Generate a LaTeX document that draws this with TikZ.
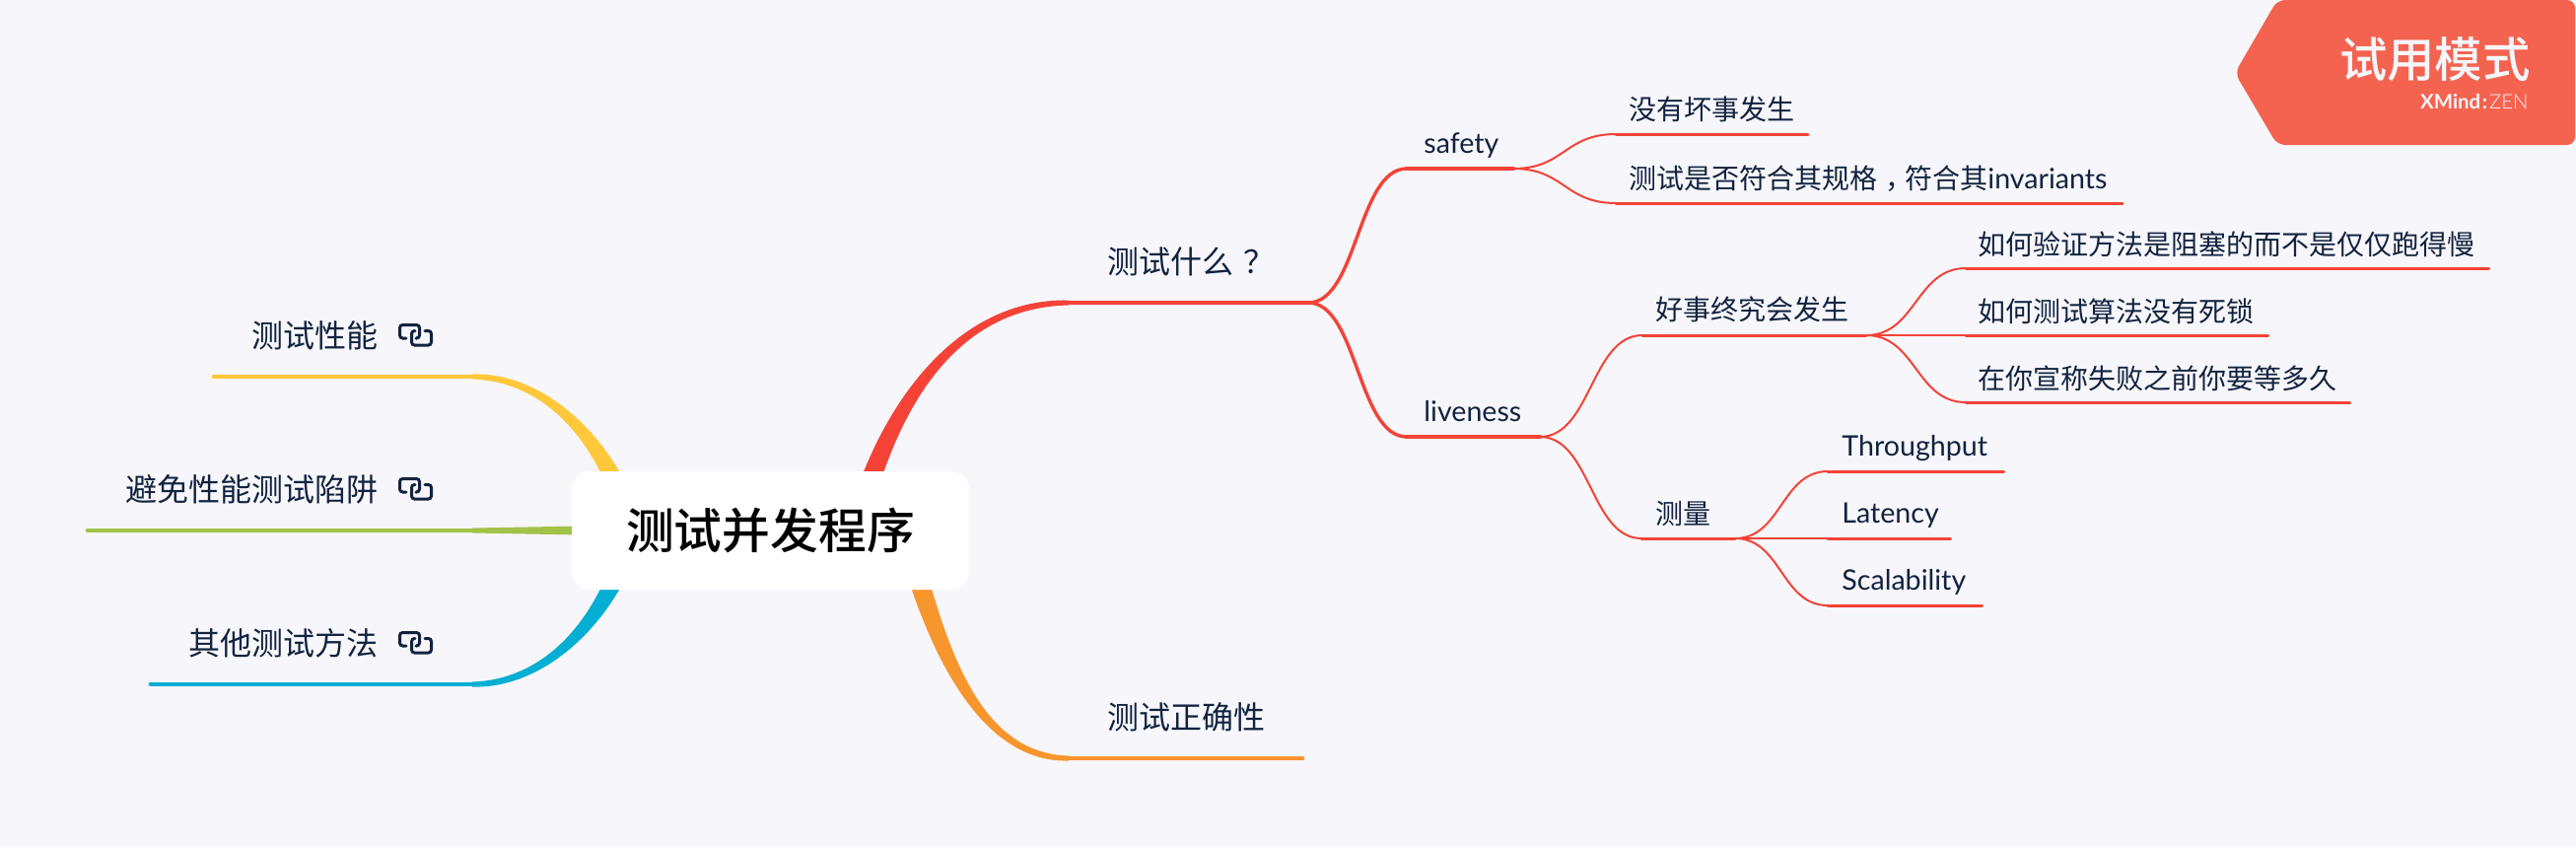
\documentclass[tikz,border=0pt]{standalone}
\usepackage{fontspec}
\setmainfont{Lato}
\newfontfamily\cjk{Noto Sans CJK SC}
\newfontfamily\cjkmid{Noto Sans CJK SC Medium}
\newfontfamily\thinlat{Lato Light}
\usetikzlibrary{calc}
\definecolor{pagebg}{HTML}{F6F6FB}
\definecolor{inkc}{HTML}{13233F}
\definecolor{redc}{HTML}{F44336}
\definecolor{yellowc}{HTML}{FFC73A}
\definecolor{greenc}{HTML}{A2C347}
\definecolor{bluec}{HTML}{05AED3}
\definecolor{orangec}{HTML}{F8962E}
\definecolor{badgec}{HTML}{F4634F}
\tikzset{
  rootbox/.style={fill=white,rounded corners=9pt,minimum width=201.5pt,minimum height=60pt,inner sep=0pt,font=\fontsize{24.4}{24.4}\selectfont\cjkmid,text=black},
  bigtext/.style={anchor=base west,inner sep=0pt,text=inkc,font=\fontsize{16}{16}\selectfont\cjk},
  midtext/.style={anchor=base west,inner sep=0pt,text=inkc,font=\fontsize{14}{14}\selectfont\cjk},
  lattext/.style={anchor=base west,inner sep=0pt,text=inkc,font=\fontsize{14.3}{14.3}\selectfont},
  thickline/.style={line width=2.4pt,line cap=round},
  thinline/.style={line width=1.5pt,line cap=round,redc},
  conna/.style={line width=1.7pt,redc},
  connb/.style={line width=1pt,redc},
  linkicon/.pic={
    \draw[inkc,line width=1.5pt,rounded corners=1.5pt,line cap=round]
      (8,15) -- (1.5,15) -- (1.5,1.5) -- (21.5,1.5) -- (21.5,15) -- (18,15);
    \draw[inkc,line width=1.5pt,rounded corners=1.5pt,line cap=round]
      (27,7.5) -- (33.5,7.5) -- (33.5,22) -- (13.5,22) -- (13.5,7.5) -- (17,7.5);
  }
}
% wide end at the root, narrow end at the topic line
\newcommand{\taperbranch}[6]{
  \fill[#1] ($(#2)+(11,0)$) .. controls ($(#3)+(11,0)$) and ($(#4)+(0,#6*2)$) .. ($(#5)+(0,#6)$)
    -- ($(#5)+(0,-#6)$) .. controls ($(#4)+(0,-#6*2)$) and ($(#3)+(-11,0)$) .. ($(#2)+(-11,0)$) -- cycle;
}
\newcommand{\sconn}[3]{
  \coordinate (m) at ($(#2)!.5!(#3)$);
  \draw[#1] (#2) .. controls (m |- #2) and (m |- #3) .. (#3);
}
\begin{document}
\begin{tikzpicture}[x=0.5pt,y=-0.5pt]
  \fill[pagebg] (0,0) rectangle (2613,859);
  \useasboundingbox (0,0) rectangle (2613,859);

  % main branches
  \coordinate (startY) at (642,538);
  \coordinate (ctrlYa) at (619,450);
  \coordinate (ctrlYb) at (555,382);
  \coordinate (startB) at (642,538);
  \coordinate (ctrlBa) at (619,626);
  \coordinate (ctrlBb) at (555,694);
  \coordinate (startR) at (868,538);
  \coordinate (ctrlRa) at (894,430);
  \coordinate (ctrlRb) at (960,307);
  \coordinate (startO) at (918,538);
  \coordinate (ctrlOa) at (947,650);
  \coordinate (ctrlOb) at (990,769);
  \coordinate (perfR) at (479,382);
  \coordinate (perfL) at (217,382);
  \coordinate (trapR) at (479,538);
  \coordinate (trapL) at (89,538);
  \coordinate (otherR) at (479,694);
  \coordinate (otherL) at (153,694);
  \coordinate (whatL) at (1084,307);
  \coordinate (whatR) at (1327,307);
  \coordinate (rightL) at (1084,769);
  \coordinate (rightR) at (1321,769);
  \taperbranch{yellowc}{startY}{ctrlYa}{ctrlYb}{perfR}{-2.5}
  \taperbranch{bluec}{startB}{ctrlBa}{ctrlBb}{otherR}{2.5}
  \taperbranch{redc}{startR}{ctrlRa}{ctrlRb}{whatL}{2.5}
  \taperbranch{orangec}{startO}{ctrlOa}{ctrlOb}{rightL}{-2.5}
  \fill[greenc] (619,533) -- ($(trapR)+(0,-2.5)$) -- ($(trapR)+(0,2.5)$) -- (619,543) -- cycle;
  \draw[thickline,yellowc] (perfL) -- (perfR);
  \draw[thickline,greenc] (trapL) -- (trapR);
  \draw[thickline,bluec] (otherL) -- (otherR);
  \draw[thickline,redc] (whatL) -- (whatR);
  \draw[thickline,orangec] (rightL) -- (rightR);

  \node[rootbox] (root) at (781.5,538) {测试并发程序};

  % left topics
  \node[bigtext] (perf) at (255.5,352) {测试性能};
  \node[bigtext] (trap) at (127.5,508) {避免性能测试陷阱};
  \node[bigtext] (other) at (191.5,664) {其他测试方法};
  \pic at (404,328) {linkicon};
  \pic at (404,484) {linkicon};
  \pic at (404,640) {linkicon};

  % right topics
  \node[bigtext] (what) at (1123,277) {测试什么\kern.3em？};
  \node[bigtext] (right) at (1123,739) {测试正确性};

  % safety side
  \coordinate (safetyL) at (1427,171);
  \coordinate (safetyR) at (1535,171);
  \coordinate (livenessL) at (1427,443);
  \coordinate (livenessR) at (1562,443);
  \sconn{conna}{whatR}{safetyL}
  \sconn{conna}{whatR}{livenessL}
  \draw[thickline,redc] (safetyL) -- (safetyR);
  \draw[thickline,redc] (livenessL) -- (livenessR);
  \node[lattext] (safety) at (1444,155) {safety};
  \node[lattext] (liveness) at (1444,427) {liveness};

  \coordinate (noneL) at (1639,136);
  \coordinate (noneR) at (1834,136);
  \coordinate (specL) at (1639,206);
  \coordinate (specR) at (2153,206);
  \sconn{connb}{safetyR}{noneL}
  \sconn{connb}{safetyR}{specL}
  \draw[thinline] (noneL) -- (noneR);
  \draw[thinline] (specL) -- (specR);
  \node[midtext] (none) at (1652,121) {没有坏事发生};
  \node[midtext] (spec) at (1652,191) {测试是否符合其规格\kern.3em，\kern-.3em符合其{\rmfamily\fontsize{14.3}{14.3}\selectfont invariants}};

  % liveness side
  \coordinate (goodL) at (1666,340);
  \coordinate (goodR) at (1893,340);
  \coordinate (measL) at (1665,546);
  \coordinate (measR) at (1760,546);
  \sconn{connb}{livenessR}{goodL}
  \sconn{connb}{livenessR}{measL}
  \draw[thinline] (goodL) -- (goodR);
  \draw[thinline] (measL) -- (measR);
  \node[midtext] (good) at (1679,324) {好事终究会发生};
  \node[midtext] (meas) at (1679,531) {测量};

  \coordinate (blockL) at (1994,272);
  \coordinate (blockR) at (2524.5,272);
  \coordinate (lockL) at (1994,340);
  \coordinate (lockR) at (2300.5,340);
  \coordinate (waitL) at (1994,408);
  \coordinate (waitR) at (2383.5,408);
  \sconn{connb}{goodR}{blockL}
  \sconn{connb}{goodR}{lockL}
  \sconn{connb}{goodR}{waitL}
  \draw[thinline] (blockL) -- (blockR);
  \draw[thinline] (lockL) -- (lockR);
  \draw[thinline] (waitL) -- (waitR);
  \node[midtext] (block) at (2006,258) {如何验证方法是阻塞的而不是仅仅跑得慢};
  \node[midtext] (lock) at (2006,326) {如何测试算法没有死锁};
  \node[midtext] (wait) at (2006,394) {在你宣称失败之前你要等多久};

  \coordinate (thruL) at (1854,478);
  \coordinate (thruR) at (2032.5,478);
  \coordinate (latL) at (1854,546);
  \coordinate (latR) at (1978.5,546);
  \coordinate (scaleL) at (1854,614);
  \coordinate (scaleR) at (2010.5,614);
  \sconn{connb}{measR}{thruL}
  \sconn{connb}{measR}{latL}
  \sconn{connb}{measR}{scaleL}
  \draw[thinline] (thruL) -- (thruR);
  \draw[thinline] (latL) -- (latR);
  \draw[thinline] (scaleL) -- (scaleR);
  \node[lattext] (thru) at (1868,462) {Throughput};
  \node[lattext] (lat) at (1868,530) {Latency};
  \node[lattext] (scale) at (1868,598) {Scalability};

  % trial badge
  \fill[badgec,rounded corners=4pt] (2310,0) -- (2267,74) -- (2310,147) -- (2612,147) -- (2612,0) -- cycle;
  \node[anchor=base east,inner sep=0pt,text=pagebg,font=\fontsize{24.2}{24.2}\selectfont\cjkmid] (trial) at (2567,78) {试用模式};
  \node[anchor=base east,inner sep=0pt,text=pagebg,font=\fontsize{10.2}{10.2}\selectfont] (brand) at (2565,110) {\textbf{XMind\kern.08em:}\kern.1em{\thinlat ZEN}};
\end{tikzpicture}
\end{document}
